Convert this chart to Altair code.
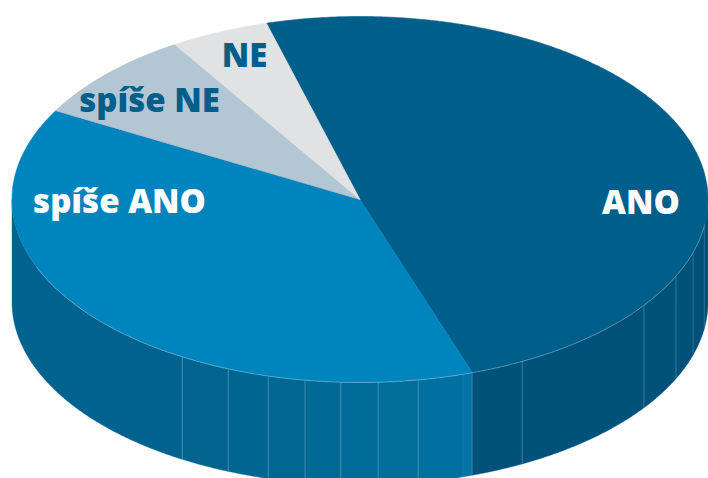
import math
import altair as alt

# Values
categories = ["ANO", "spíše ANO", "spíše NE", "NE"]
shares = [49.1, 38.3, 8.0, 4.6]
slice_colors = ["#005e8a", "#0084bd", "#b3c6d4", "#e0e2e4"]
edge_colors = ["#005e8a", "#0084bd", "#a9b9c6", "#e0e2e4"]
start_angle = -15.6  # degrees clockwise from the top of the ellipse

# Wall section borders, as fractions of the horizontal radius
wall_stops = [-1, -0.511, -0.379, -0.264, -0.158, -0.055, 0.052, 0.167, 0.296, 0.322,
              0.466, 0.816, 0.908, 0.957, 0.989, 1]
wall_colors = ["#00628e", "#00648f", "#006591", "#006793", "#006995", "#006b98", "#006d9b", "#00709f",
               "#0073a6", "#00527b", "#00527b", "#00527b", "#00517a", "#005079", "#005079"]
seam_strength = [0.3, 0.28, 0.28, 0.3, 0.3, 0.28, 0.28, 0.1, 0.3, 0.25, 0.3, 0.3, 0.22, 0.15]

label_fill = ["#ffffff", "#ffffff", "#005e8a", "#005e8a"]
label_x = [641, 119.5, 149.5, 244.5]
label_y = [214, 213, 112, 67]

# Shape of the disc relative to its horizontal radius
ASPECT = 183.0 / 348.0
DEPTH = 102.5 / 348.0


def rim(t):
    return [math.sin(t), ASPECT * math.cos(t)]


def arc(a, b, step=0.5):
    n = max(2, int(abs(b - a) / step) + 2)
    return [rim(math.radians(a + (b - a) * i / (n - 1))) for i in range(n)]


def feature(kind, coords, **props):
    return {"type": "Feature", "properties": props, "geometry": {"type": kind, "coordinates": coords}}


def wall_arc(xa, xb):
    # the front half of the rim, between two horizontal fractions
    ta = math.pi - math.asin(xa)
    tb = math.pi - math.asin(xb)
    n = max(2, int(abs(tb - ta) * 180) + 2)
    return [rim(ta + (tb - ta) * i / (n - 1)) for i in range(n)]


slices = []
a = start_angle
total = sum(shares)
for name, share, col, edge in zip(categories, shares, slice_colors, edge_colors):
    b = a + 360 * share / total
    ring = [[0, 0]] + arc(a, b) + [[0, 0]]
    slices.append(feature("Polygon", [ring], name=name, fill=col, edge=edge))
    a = b

walls = []
seams = []
for i, col in enumerate(wall_colors):
    top = wall_arc(wall_stops[i], wall_stops[i + 1])
    bottom = [[p[0], p[1] - DEPTH] for p in reversed(top)]
    walls.append(feature("Polygon", [top + bottom + [top[0]]], fill=col))
    if i > 0:
        seams.append(feature("LineString", [top[0], [top[0][0], top[0][1] - DEPTH]], o=seam_strength[i - 1]))

rim_line = [feature("LineString", wall_arc(-0.93, 0.99))]


def fc(features):
    return alt.InlineData(values={"type": "FeatureCollection", "features": features},
                          format=alt.DataFormat(type="json", property="features"))


projection = alt.Projection(type="identity", reflectY=True, scale=348, translate=[352, 191.5])

wall_layer = alt.Chart(fc(walls)).mark_geoshape(strokeWidth=0.4).encode(
    fill=alt.Fill("properties.fill:N", scale=None),
    stroke=alt.Stroke("properties.fill:N", scale=None),
).project(**projection.to_dict())

seam_layer = alt.Chart(fc(seams)).mark_geoshape(filled=False, stroke="#ffffff", strokeWidth=0.8).encode(
    strokeOpacity=alt.StrokeOpacity("properties.o:Q", scale=None),
).project(**projection.to_dict())

slice_layer = alt.Chart(fc(slices)).mark_geoshape(strokeWidth=0.6).encode(
    fill=alt.Fill("properties.fill:N", scale=None),
    stroke=alt.Stroke("properties.edge:N", scale=None),
).project(**projection.to_dict())

rim_layer = alt.Chart(fc(rim_line)).mark_geoshape(filled=False, stroke="#ffffff", strokeOpacity=0.35, strokeWidth=0.8).project(
    **projection.to_dict())

labels = []
for name, col, lx, ly in zip(categories, label_fill, label_x, label_y):
    labels.append(
        alt.Chart(alt.Data(values=[{"t": name}])).mark_text(
            font="Open Sans", fontWeight=800, fontSize=33, color=col, align="center", baseline="alphabetic"
        ).encode(text="t:N", x=alt.value(lx - 8), y=alt.value(ly - 8))
    )

chart = alt.layer(wall_layer, seam_layer, slice_layer, rim_layer, *labels).properties(
    width=700, height=470, padding=0, autosize=alt.AutoSizeParams(type="none")
).configure_view(stroke=None)

page_style = "html,body{height:478px;overflow:hidden}body{margin:8px 0 0 8px;height:470px}.vega-embed,.vega-embed svg{display:block}"
chart.save("out.html", embed_options={"renderer": "svg", "actions": False, "defaultStyle": page_style})
